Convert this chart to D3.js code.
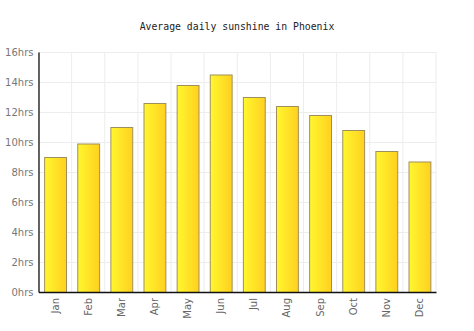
<!DOCTYPE html>
<html><head><meta charset="utf-8">
<script src="https://cdn.jsdelivr.net/npm/d3@7"></script>
<style>html,body{margin:0;padding:0;background:#fff;}</style>
</head><body>
<svg id="chart" width="474" height="331"></svg>
<script>
const months = ["Jan","Feb","Mar","Apr","May","Jun","Jul","Aug","Sep","Oct","Nov","Dec"];
const sunshine = [9.0, 9.9, 11.0, 12.6, 13.8, 14.5, 13.0, 12.4, 11.8, 10.8, 9.4, 8.7];
const yTicks = [0, 2, 4, 6, 8, 10, 12, 14, 16];
const title = "Average daily sunshine in Phoenix";

const svg = d3.select("#chart");
const margin = {left: 38.5, right: 38, top: 52, bottom: 39};
const W = 474, H = 331;

const x = d3.scaleBand().domain(months).range([margin.left, W - margin.right]).paddingInner(0.34).paddingOuter(0.17);
const y = d3.scaleLinear().domain([0, 16]).range([H - margin.bottom, margin.top]);

const defs = svg.append("defs");
const grad = defs.append("linearGradient").attr("id", "barGrad").attr("x1", "0%").attr("x2", "100%").attr("y1", "0%").attr("y2", "0%");
grad.append("stop").attr("offset", "0%").attr("stop-color", "#fff72e");
grad.append("stop").attr("offset", "100%").attr("stop-color", "#ffd020");

// grid
const band = (W - margin.right - margin.left) / months.length;
const gridX = d3.range(months.length + 1).map(i => margin.left + i * band);
svg.append("g").selectAll("line.v").data(gridX).join("line")
  .attr("x1", d => d).attr("x2", d => d).attr("y1", y(16)).attr("y2", y(0))
  .attr("stroke", "#ededed").attr("stroke-width", 1);
svg.append("g").selectAll("line.h").data(yTicks).join("line")
  .attr("x1", margin.left).attr("x2", W - margin.right)
  .attr("y1", d => Math.round(y(d)) + 0.5).attr("y2", d => Math.round(y(d)) + 0.5)
  .attr("stroke", "#ededed").attr("stroke-width", 1);

// bars
svg.append("g").selectAll("rect").data(sunshine).join("rect")
  .attr("x", (d, i) => x(months[i]) + 0.5)
  .attr("y", d => y(d) + 0.5)
  .attr("width", x.bandwidth())
  .attr("height", d => y(0) - y(d))
  .attr("fill", "url(#barGrad)")
  .attr("stroke", "#a08f5c").attr("stroke-width", 1);

// axes
const yAxis = d3.axisLeft(y).tickValues(yTicks).tickFormat(d => d + "hrs").tickSize(0).tickPadding(5);
const gy = svg.append("g").attr("transform", `translate(${margin.left},0)`).call(yAxis);
gy.select(".domain").attr("stroke", "#111").attr("stroke-width", 1.3);
gy.selectAll("text").attr("fill", "#777").style("font-family", "DejaVu Sans").style("font-size", "10px");

const xAxis = d3.axisBottom(x).tickSize(0).tickPadding(6);
const gx = svg.append("g").attr("transform", `translate(0,${y(0)})`).call(xAxis);
gx.select(".domain").attr("stroke", "#111").attr("stroke-width", 1.3);
gx.selectAll("text")
  .attr("fill", "#666").style("font-family", "DejaVu Sans").style("font-size", "10px")
  .attr("transform", "rotate(-90)")
  .attr("text-anchor", "end").attr("x", -6).attr("y", 0).attr("dy", "0.35em");

svg.append("text").attr("x", 237).attr("y", 30).attr("text-anchor", "middle")
  .style("font-family", "DejaVu Sans Mono").style("font-size", "9.8px").attr("fill", "#222")
  .text(title);
</script>
</body></html>
